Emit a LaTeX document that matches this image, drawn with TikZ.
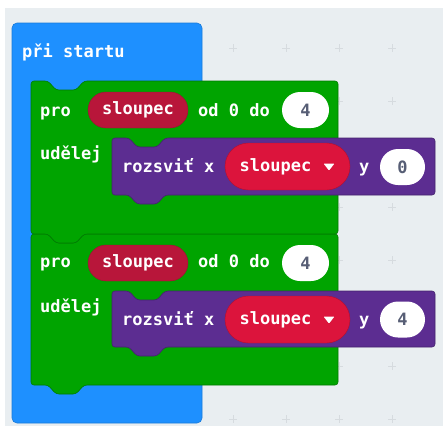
\documentclass[tikz,border=0pt]{standalone}
\usepackage{fontspec}
\setmonofont{DejaVu Sans Mono}
\usepackage{tikz}
\usetikzlibrary{shapes.misc}

\definecolor{startblue}{HTML}{1E90FF}
\definecolor{loopgreen}{HTML}{00A400}
\definecolor{ledpurple}{HTML}{5C2D91}
\definecolor{varred}{HTML}{DC143C}
\definecolor{vardark}{HTML}{B8163A}
\definecolor{bggray}{HTML}{E9EEF1}
\definecolor{gridgray}{HTML}{D6DBDF}
\definecolor{numgray}{HTML}{575E75}

\begin{document}
\begin{tikzpicture}[x=1pt,y=-1pt,
   font=\ttfamily\bfseries\fontsize{17}{20}\selectfont,
   lbl/.style={anchor=west,inner sep=0pt,text height=9.3pt,text depth=0pt,text=white},
   varpill/.style={rounded rectangle,fill=vardark,draw=vardark!85!black,text=white,
      minimum width=100pt,minimum height=36pt,inner sep=0pt,text height=9.3pt,text depth=0pt},
   droppill/.style={varpill,fill=varred,draw=varred!80!black,minimum width=125pt,minimum height=47pt},
   numpill/.style={rounded rectangle,fill=white,text=numgray,minimum width=47pt,
      minimum height=36pt,inner sep=0pt,text height=12.4pt,text depth=0pt},
   loopblock/.style={fill=loopgreen,draw=loopgreen!75!black,line width=0.6pt,rounded corners=3pt},
   ledblock/.style={fill=ledpurple,draw=ledpurple!75!black,line width=0.6pt,rounded corners=3pt},
   notch/.style={insert path={-- ++(17,0) -- ++(8,9) -- ++(20,0) -- ++(8,-9)}},
   tab/.style={insert path={-- ++(-8,9) -- ++(-20,0) -- ++(-8,-9)}}]
   \useasboundingbox (0,0) rectangle (443,426);
   \fill[bggray] (5,8) rectangle (443,426);
   % workspace grid
   \foreach \gx in {21,74,...,394}
      \foreach \gy in {48,101,...,421}
         \draw[gridgray,line width=0.8pt] (\gx-4,\gy) -- (\gx+4,\gy) (\gx,\gy-4) -- (\gx,\gy+4);

   % hat block
   \filldraw[startblue,draw=startblue!85!black,line width=0.6pt,rounded corners=5pt]
      (12,23) rectangle (202,423);
   \node[lbl] (start) at (22,53) {při startu};

   % loops
   \path[loopblock] (31,234) [notch] -- (338,234) -- (338,385) -- (84,385) [tab] -- (31,385) -- cycle;
   \path[loopblock] (31,81) [notch] -- (338,81) -- (338,234) -- (84,234) [tab] -- (31,234) -- cycle;

   % first loop
   \node[lbl] (pro1) at (40,112) {pro};
   \node[varpill] (var1) at (138,110) {sloupec};
   \node[lbl] (od1) at (198,112) {od 0 do};
   \node[numpill] (to1) at (305.5,110) {4};
   \node[lbl] (ud1) at (40,155) {udělej};
   \path[ledblock] (112,138) [notch] -- (435,138) -- (435,195) -- (165,195) [tab] -- (112,195) -- cycle;
   \node[lbl] (plot1) at (122,168) {rozsviť x};
   \node[droppill] (x1) at (287.5,166.5) {sloupec\kern24pt};
   \fill[white,rounded corners=0.8pt] (x1.center) ++(36,-3) -- ++(11,0) -- ++(-5.5,7) -- cycle;
   \node[lbl] (y1) at (359,168) {y};
   \node[numpill,minimum width=45pt] (ny1) at (402.5,167) {0};

   % second loop
   \node[lbl] (pro2) at (40,263) {pro};
   \node[varpill] (var2) at (138,263) {sloupec};
   \node[lbl] (od2) at (198,263) {od 0 do};
   \node[numpill] (to2) at (305.5,263) {4};
   \node[lbl] (ud2) at (40,308) {udělej};
   \path[ledblock] (112,291) [notch] -- (435,291) -- (435,347) -- (165,347) [tab] -- (112,347) -- cycle;
   \node[lbl] (plot2) at (122,321) {rozsviť x};
   \node[droppill] (x2) at (287.5,319.5) {sloupec\kern24pt};
   \fill[white,rounded corners=0.8pt] (x2.center) ++(36,-3) -- ++(11,0) -- ++(-5.5,7) -- cycle;
   \node[lbl] (y2) at (359,321) {y};
   \node[numpill,minimum width=45pt] (ny2) at (402.5,319.5) {4};
\end{tikzpicture}
\end{document}
